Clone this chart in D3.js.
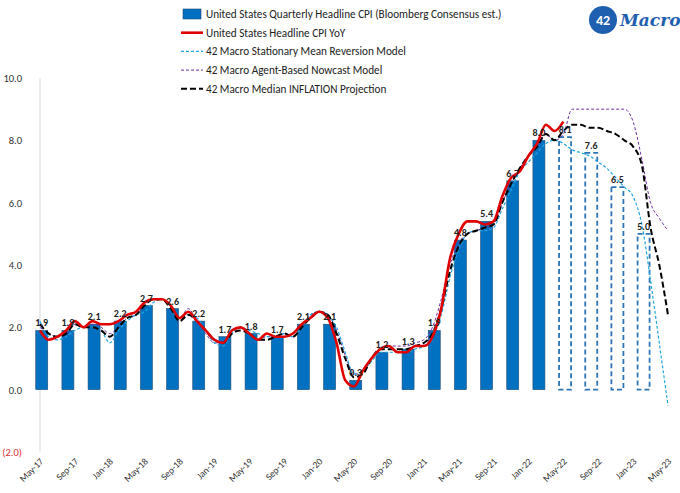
<!DOCTYPE html>
<html><head><meta charset="utf-8">
<script src="https://cdn.jsdelivr.net/npm/d3@7"></script>
<style>body{margin:0;background:#fff;font-family:Calibri,Carlito,"Liberation Sans",Arial,sans-serif}</style>
</head><body><svg id="c" width="680" height="493"></svg>
<script>
// month labels, every 4 months from May-17
const tickLabels = ["May-17","Sep-17","Jan-18","May-18","Sep-18","Jan-19","May-19","Sep-19","Jan-20","May-20","Sep-20","Jan-21","May-21","Sep-21","Jan-22","May-22","Sep-22","Jan-23","May-23"];
// quarterly bars, one every 3 months; last 4 are consensus estimates
const barValues = [1.9,1.9,2.1,2.2,2.7,2.6,2.2,1.7,1.8,1.7,2.1,2.1,0.3,1.2,1.3,1.9,4.8,5.4,6.7,8.0,8.1,7.6,6.5,5.0];
const barEstimateFrom = 20;
// monthly series, index 0 = May-17
const cpiYoY = [1.9,1.6,1.7,1.9,2.2,2.0,2.2,2.1,
  2.1,2.2,2.4,2.5,2.8,2.9,2.9,2.7,2.3,2.5,2.2,1.9,
  1.6,1.5,1.9,2.0,1.8,1.6,1.8,1.7,1.7,1.8,2.1,2.3,
  2.5,2.3,1.5,0.3,0.1,0.6,1.0,1.3,1.4,1.2,1.2,1.4,
  1.4,1.7,2.6,4.2,5.0,5.4,5.4,5.3,5.4,6.2,6.8,7.0,
  7.5,7.9,8.5,8.3,8.6];
const meanReversion = [2.2,1.7,1.6,1.7,1.9,2.0,2.0,1.9,
  1.5,1.9,2.2,2.4,2.5,2.8,2.9,2.7,2.3,2.4,2.3,1.9,
  1.5,1.4,1.8,2.0,1.9,1.8,1.7,1.7,1.8,1.7,2.0,2.4,
  2.5,2.4,2.0,1.2,0.5,0.6,0.9,1.2,1.2,1.2,1.2,1.3,
  1.4,1.7,2.4,3.6,4.5,5.0,5.1,5.1,5.2,5.8,6.4,7.0,
  7.3,7.6,7.9,8.0,7.9,7.7,7.6,7.5,7.3,7.1,6.8,6.5,
  6.2,5.3,3.5,1.5,-0.5];
const agentNowcast = [2.0,1.8,1.7,1.8,2.1,2.0,2.1,2.0,
  1.8,2.0,2.3,2.4,2.7,2.9,2.9,2.7,2.3,2.6,2.2,1.8,
  1.5,1.5,1.9,2.0,1.8,1.6,1.7,1.7,1.8,1.7,2.0,2.4,
  2.5,2.4,1.9,1.1,0.5,0.6,1.0,1.3,1.4,1.4,1.4,1.5,
  1.6,2.0,2.9,4.0,4.7,5.0,5.1,5.2,5.3,6.0,6.6,7.1,
  7.5,7.8,8.2,8.0,8.2,9.0,9.0,9.0,9.0,9.0,9.0,9.0,
  8.6,7.4,6.0,5.5,5.1];
const medianProjection = [2.1,1.8,1.7,1.8,2.1,2.0,2.0,1.9,
  1.7,2.0,2.3,2.4,2.7,2.9,2.9,2.6,2.2,2.4,2.2,1.9,
  1.6,1.5,1.8,1.9,1.8,1.6,1.6,1.7,1.8,1.7,2.0,2.3,
  2.5,2.4,1.8,1.0,0.4,0.5,1.0,1.3,1.3,1.3,1.3,1.4,
  1.5,1.8,2.6,3.8,4.6,5.0,5.1,5.2,5.3,6.0,6.6,7.1,
  7.5,7.8,8.2,8.0,8.3,8.5,8.5,8.4,8.4,8.3,8.2,8.0,
  7.8,7.2,5.2,4.0,2.4];
const yTicks = [-2,0,2,4,6,8,10];

const svg = d3.select("#c");
const x = d3.scaleLinear().domain([0,72]).range([40,668]);
const y = d3.scaleLinear().domain([-2,10]).range([452,78]);

// y axis
svg.append("line").attr("x1",40).attr("x2",40).attr("y1",78).attr("y2",452).attr("stroke","#d9d9d9");
svg.selectAll(".yt").data(yTicks).enter().append("text")
  .attr("x",22).attr("y",d=>y(d)+4).attr("text-anchor","end").attr("font-size",10.5)
  .attr("fill",d=>d<0?"#e03030":"#333")
  .text(d=>d<0?"("+(-d).toFixed(1)+")":d.toFixed(1));

// x labels
svg.selectAll(".xt").data(tickLabels).enter().append("text")
  .attr("transform",(d,i)=>`translate(${x(i*4)+4},${462}) rotate(-45)`)
  .attr("text-anchor","end").attr("font-size",9.5).attr("fill","#333").text(d=>d);

// bars
const bw = 12;
svg.selectAll(".bar").data(barValues).enter().append("rect")
  .attr("x",(d,i)=>x(i*3+0.2)-bw/2).attr("width",bw)
  .attr("y",d=>y(d)).attr("height",d=>y(0)-y(d))
  .attr("fill",(d,i)=>i<barEstimateFrom?"#0070c0":"none")
  .attr("stroke",(d,i)=>i<barEstimateFrom?"#1f4e79":"#2e75b6")
  .attr("stroke-width",(d,i)=>i<barEstimateFrom?0.6:1.8)
  .attr("stroke-dasharray",(d,i)=>i<barEstimateFrom?null:"5,3");

const line = d3.line().x((d,i)=>x(i)).y(d=>y(d)).curve(d3.curveMonotoneX);
function drawLine(data,color,w,dash){
  svg.append("path").datum(data).attr("d",line).attr("fill","none")
    .attr("stroke",color).attr("stroke-width",w).attr("stroke-dasharray",dash);
}
drawLine(agentNowcast,"#7030a0",1,"3,2");
drawLine(meanReversion,"#1ea6e0",1.2,"3,2");
drawLine(medianProjection,"#000",2,"6,3");
drawLine(cpiYoY,"#e00000",2.6,null);

// bar labels
svg.selectAll(".bl").data(barValues).enter().append("text")
  .attr("x",(d,i)=>x(i*3+0.2)).attr("y",d=>y(d)-4).attr("text-anchor","middle")
  .attr("font-size",10).attr("font-weight","bold").attr("fill","#222").text(d=>d.toFixed(1));

// legend
const legend = [
  {t:"United States Quarterly Headline CPI (Bloomberg Consensus est.)",k:"bar"},
  {t:"United States Headline CPI YoY",c:"#e00000",w:2.6,d:null},
  {t:"42 Macro Stationary Mean Reversion Model",c:"#1ea6e0",w:1.2,d:"3,2"},
  {t:"42 Macro Agent-Based Nowcast Model",c:"#7030a0",w:1,d:"3,2"},
  {t:"42 Macro Median INFLATION Projection",c:"#000",w:2,d:"6,3"}];
legend.forEach((l,i)=>{
  const ly = 14+i*18.7;
  if(l.k==="bar") svg.append("rect").attr("x",183).attr("y",ly-5).attr("width",18).attr("height",10).attr("fill","#0070c0").attr("stroke","#1f4e79").attr("stroke-width",0.6);
  else svg.append("line").attr("x1",181).attr("x2",203).attr("y1",ly).attr("y2",ly).attr("stroke",l.c).attr("stroke-width",l.w).attr("stroke-dasharray",l.d);
  svg.append("text").attr("x",206).attr("y",ly+4).attr("font-size",11.2).attr("fill","#222").text(l.t);
});

// logo
svg.append("circle").attr("cx",603).attr("cy",20).attr("r",14).attr("fill","#1f5fb0");
svg.append("text").attr("x",603).attr("y",25).attr("text-anchor","middle").attr("fill","#fff").attr("font-size",14).attr("font-weight","bold").text("42");
svg.append("text").attr("x",620).attr("y",26).attr("fill","#1f5fb0").attr("font-size",17).attr("font-style","italic").attr("font-weight","bold").attr("font-family","DejaVu Serif,serif").text("Macro");
</script></body></html>
